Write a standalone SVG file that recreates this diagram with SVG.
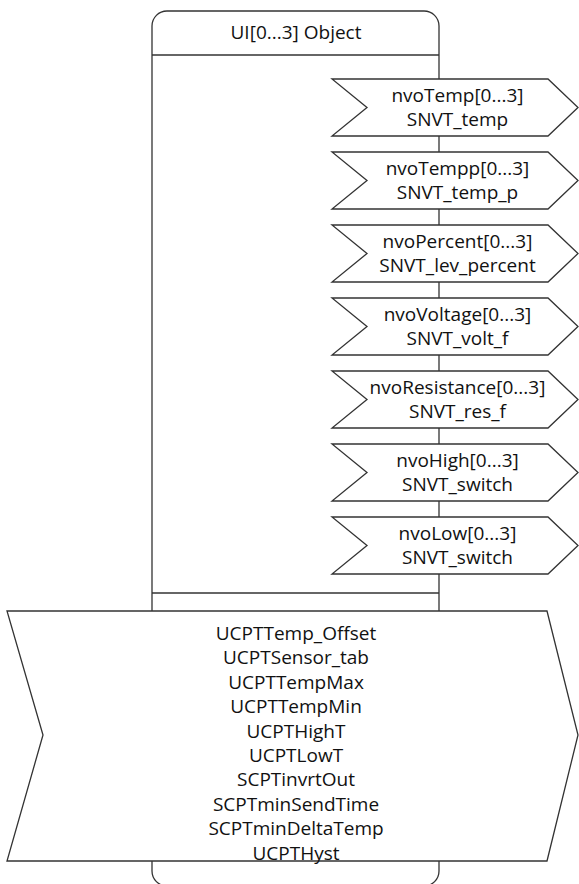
<svg xmlns="http://www.w3.org/2000/svg" width="579" height="884" viewBox="0 0 579 884">
<style>
.ln{fill:none;stroke:#333333;stroke-width:1.3}
.sh{fill:#ffffff;stroke:#333333;stroke-width:1.3;stroke-linejoin:miter}
text{font-family:"Open Sans","Noto Sans","DejaVu Sans",sans-serif;font-size:19px;fill:#111111;text-anchor:middle}
</style>
<rect x="0" y="0" width="579" height="884" fill="#ffffff"/>
<g id="object">
<rect class="ln" x="152" y="11" width="287" height="875" rx="15" ry="15"/>
<line class="ln" x1="152" y1="55" x2="439" y2="55"/>
<line class="ln" x1="152" y1="593" x2="439" y2="593"/>
<text x="296" y="39">UI[0...3] Object</text>
</g>
<g id="connectors"></g>
<g id="nvoTemp">
<polygon class="sh" points="332,79 548,79 578,107.5 548,136 332,136 367,107.5"/>
<text x="457.5" y="102">nvoTemp[0...3]</text>
<text x="457.5" y="126">SNVT_temp</text>
</g>
<g id="nvoTempp">
<polygon class="sh" points="332,152 548,152 578,180.5 548,209 332,209 367,180.5"/>
<text x="457.5" y="175">nvoTempp[0...3]</text>
<text x="457.5" y="199">SNVT_temp_p</text>
</g>
<g id="nvoPercent">
<polygon class="sh" points="332,225 548,225 578,253.5 548,282 332,282 367,253.5"/>
<text x="457.5" y="248">nvoPercent[0...3]</text>
<text x="457.5" y="272">SNVT_lev_percent</text>
</g>
<g id="nvoVoltage">
<polygon class="sh" points="332,298 548,298 578,326.5 548,355 332,355 367,326.5"/>
<text x="457.5" y="321">nvoVoltage[0...3]</text>
<text x="457.5" y="345">SNVT_volt_f</text>
</g>
<g id="nvoResistance">
<polygon class="sh" points="332,371 548,371 578,399.5 548,428 332,428 367,399.5"/>
<text x="457.5" y="394">nvoResistance[0...3]</text>
<text x="457.5" y="418">SNVT_res_f</text>
</g>
<g id="nvoHigh">
<polygon class="sh" points="332,444 548,444 578,472.5 548,501 332,501 367,472.5"/>
<text x="457.5" y="467">nvoHigh[0...3]</text>
<text x="457.5" y="491">SNVT_switch</text>
</g>
<g id="nvoLow">
<polygon class="sh" points="332,517 548,517 578,545.5 548,574 332,574 367,545.5"/>
<text x="457.5" y="540">nvoLow[0...3]</text>
<text x="457.5" y="564">SNVT_switch</text>
</g>
<g id="config">
<polygon class="sh" points="7,611 547,611 578,735 547,861 7,861 43,735"/>
<text x="296" y="640">UCPTTemp_Offset</text>
<text x="296" y="664.4">UCPTSensor_tab</text>
<text x="296" y="688.8">UCPTTempMax</text>
<text x="296" y="713.2">UCPTTempMin</text>
<text x="296" y="737.6">UCPTHighT</text>
<text x="296" y="762">UCPTLowT</text>
<text x="296" y="786.4">SCPTinvrtOut</text>
<text x="296" y="810.8">SCPTminSendTime</text>
<text x="296" y="835.2">SCPTminDeltaTemp</text>
<text x="296" y="859.6">UCPTHyst</text>
</g>
</svg>
